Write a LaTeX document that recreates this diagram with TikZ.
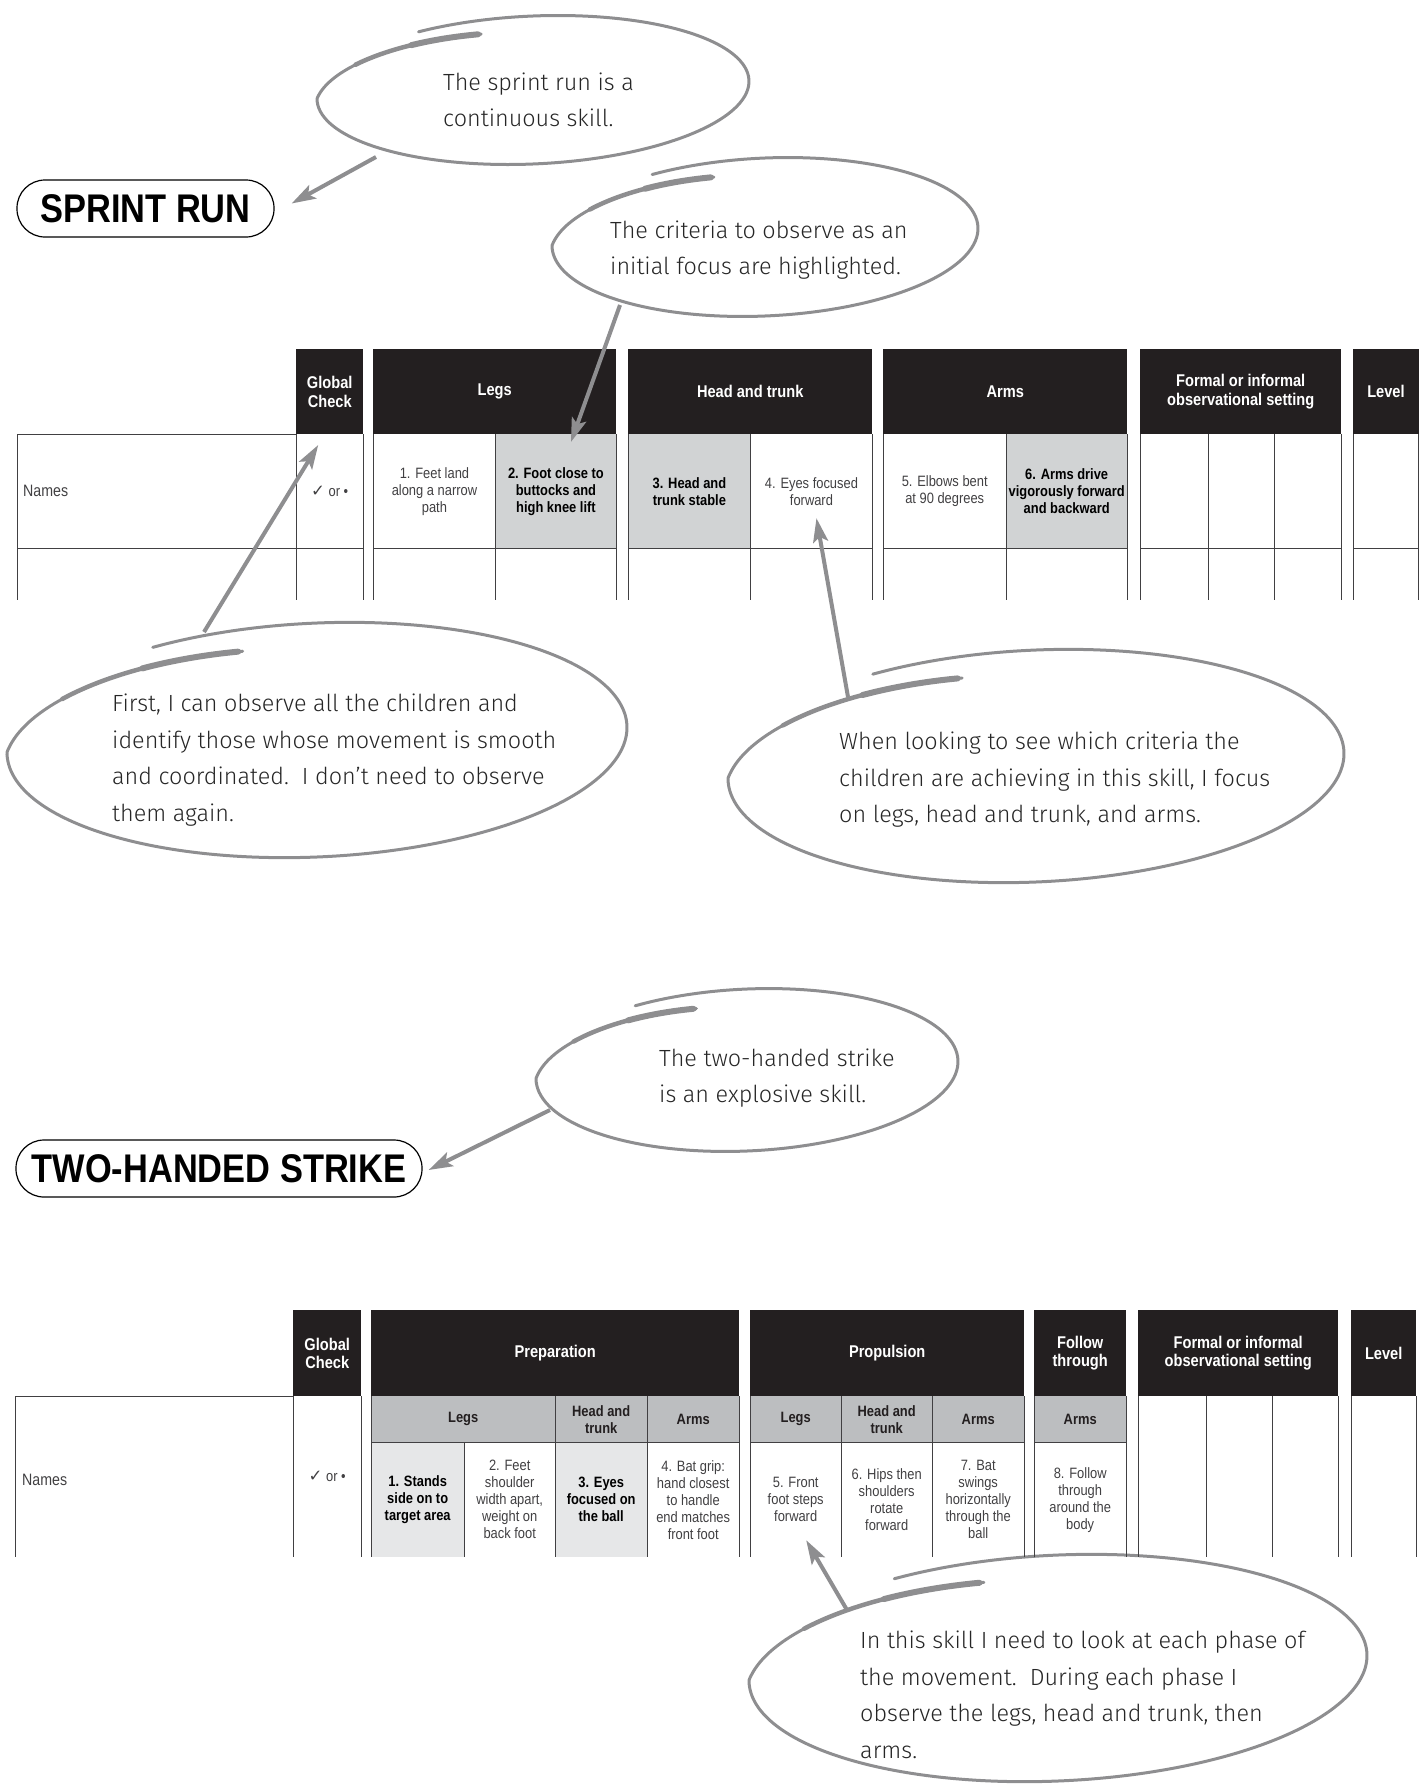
\documentclass[tikz,border=0pt]{standalone}
\usepackage{fontspec}
\usepackage{tikz}
\usetikzlibrary{arrows.meta}
\newfontfamily\tabfont[FakeStretch=0.86]{Liberation Sans}
\newfontfamily\handfont{Fira Sans Light}
\newfontfamily\symfont{DejaVu Sans}
\definecolor{hdrblack}{HTML}{231F20}
\definecolor{hilite}{HTML}{D1D3D4}
\definecolor{litehilite}{HTML}{E6E7E8}
\definecolor{subgray}{HTML}{BCBEC0}
\definecolor{pengray}{HTML}{8E8E90}
\definecolor{inkgray}{HTML}{262626}
\definecolor{ruleclr}{HTML}{414042}
\tikzset{
  declare function={sk(\a)=1-0.18*min(1,max(0,(\a-540)/73));},
  cell/.style={anchor=north west, inner sep=0pt, align=center},
  hdr/.style={cell, fill=hdrblack, text=white, font=\tabfont\bfseries\fontsize{17}{18.5}\selectfont},
  subhdr/.style={cell, fill=subgray, text=hdrblack, font=\tabfont\bfseries\fontsize{15}{17}\selectfont},
  crit/.style={cell, text=ruleclr, font=\tabfont\fontsize{15}{17}\selectfont},
  keycrit/.style={cell, text=black, font=\tabfont\bfseries\fontsize{15}{17}\selectfont},
  rowname/.style={anchor=west, inner sep=0pt, text=ruleclr, font=\tabfont\fontsize{16.5}{18}\selectfont},
  tabline/.style={draw=ruleclr, line width=1pt},
  titlebox/.style={draw=black, line width=1.2pt, rounded corners=28pt, inner sep=0pt,
    font=\tabfont\bfseries\fontsize{40}{42}\selectfont},
  note/.style={anchor=west, inner sep=0pt, align=left, text=inkgray,
    font=\handfont\fontsize{23.4}{36.5}\selectfont},
  pen/.style={draw=pengray, line width=3pt, line cap=round, line join=round},
  pointer/.style={draw=pengray, line width=4pt, -{Stealth[length=24pt, width=15pt, inset=5pt]}}
}
\newcommand{\penloop}[4]{%
  \draw[pen] plot[domain=238:613, samples=150, smooth, variable=\t]
    ({#1+sk(\t)*#3*cos(\t)}, {#2+sk(\t)*(#4*sin(\t)-0.04*#3*cos(\t))});
  \draw[pen, line width=4.5pt] plot[domain=568:612, samples=25, smooth, variable=\t]
    ({#1+sk(\t)*#3*cos(\t)}, {#2+sk(\t)*(#4*sin(\t)-0.04*#3*cos(\t))});
  \draw[pen, line width=6pt] plot[domain=590:612, samples=15, smooth, variable=\t]
    ({#1+sk(\t)*#3*cos(\t)}, {#2+sk(\t)*(#4*sin(\t)-0.04*#3*cos(\t))});
}

\begin{document}
\begin{tikzpicture}[x=1pt, y=-1pt]
\useasboundingbox (0,0) rectangle (1425,1785);

\node[titlebox, minimum width=257pt, minimum height=57pt] (sprint) at (145.5,208.5) {SPRINT RUN};
\node[titlebox, minimum width=406pt, minimum height=57pt] (strike) at (219,1168.5) {TWO-HANDED STRIKE};

\penloop{533}{90}{216}{74}
\penloop{765}{237}{213}{79}
\penloop{317}{740}{310}{117}
\penloop{1036}{766}{308}{116}
\penloop{747}{1070}{211}{81}
\penloop{1058}{1668}{309}{113}

\node[note] (n1) at (443,100) {The sprint run is a\\continuous skill.};
\node[note] (n2) at (610,250) {The criteria to observe as an\\initial focus are highlighted.};
\node[note] (n3) at (112,760) {First, I can observe all the children and\\identify those whose movement is smooth\\and coordinated.\ \ I don’t need to observe\\them again.};
\node[note] (n4) at (839,780) {When looking to see which criteria the\\children are achieving in this skill, I focus\\on legs, head and trunk, and arms.};
\node[note] (n5) at (659,1078) {The two-handed strike\\is an explosive skill.};
\node[note] (n6) at (860,1695) {In this skill I need to look at each phase of\\the movement.\ \ During each phase I\\observe the legs, head and trunk, then\\arms.};

\node[hdr, minimum width=67pt, minimum height=85pt] (gc1) at (296,349) {Global\\Check};
\node[hdr, minimum width=243pt, minimum height=85pt] (legs1) at (373,349) {Legs};
\node[hdr, minimum width=244pt, minimum height=85pt] (ht1) at (628,349) {Head and trunk};
\node[hdr, minimum width=244pt, minimum height=85pt] (arms1) at (883,349) {Arms};
\node[hdr, minimum width=201pt, minimum height=85pt] (set1) at (1140,349) {Formal or informal\\observational setting};
\node[hdr, minimum width=65.5pt, minimum height=85pt] (lvl1) at (1353,349) {Level};

\node[rowname] (names1) at (23,491) {Names};
\node[crit, minimum width=67pt, minimum height=114pt] (chk1) at (296,434) {{\symfont\fontsize{16.5}{18}\selectfont ✓} or •};
\node[crit, minimum width=122.5pt, minimum height=114pt] (a1) at (373,434) {1. Feet land\\along a narrow\\path};
\node[keycrit, fill=hilite, minimum width=120.5pt, minimum height=114pt] (a2) at (495.5,434) {2. Foot close to\\buttocks and\\high knee lift};
\node[keycrit, fill=hilite, minimum width=122.5pt, minimum height=114pt] (a3) at (628,434) {3. Head and\\trunk stable};
\node[crit, minimum width=121.5pt, minimum height=114pt] (a4) at (750.5,434) {4. Eyes focused\\forward};
\node[crit, minimum width=123pt, minimum height=114pt] (a5) at (883,434) {5. Elbows bent\\at 90 degrees};
\node[keycrit, fill=hilite, minimum width=121pt, minimum height=114pt] (a6) at (1006,434) {6. Arms drive\\vigorously forward\\and backward};

\draw[tabline] (17,434) -- (296,434);
\foreach \x in {17,296,363,373,495.5,616,628,750.5,872,883,1006,1127,1140,1208,1274,1341,1353,1418.5}
\draw[tabline] (\x,434) -- (\x,600);
\foreach \a/\b in {17/363,373/616,628/872,883/1127,1140/1341,1353/1418.5}
\draw[tabline] (\a,548) -- (\b,548);

\node[hdr, minimum width=68pt, minimum height=86pt] (gc2) at (293,1310) {Global\\Check};
\node[hdr, minimum width=368pt, minimum height=86pt] (prep) at (371,1310) {Preparation};
\node[hdr, minimum width=274pt, minimum height=86pt] (prop) at (750,1310) {Propulsion};
\node[hdr, minimum width=92pt, minimum height=86pt] (follow) at (1034,1310) {Follow\\through};
\node[hdr, minimum width=200pt, minimum height=86pt] (set2) at (1138,1310) {Formal or informal\\observational setting};
\node[hdr, minimum width=65pt, minimum height=86pt] (lvl2) at (1351,1310) {Level};

\node[subhdr, minimum width=184pt, minimum height=46pt] (s1) at (371,1396) {Legs};
\node[subhdr, minimum width=92pt, minimum height=46pt] (s2) at (555,1396) {Head and\\trunk};
\node[subhdr, minimum width=92pt, minimum height=46pt] (s3) at (647,1396) {Arms};
\node[subhdr, minimum width=91pt, minimum height=46pt] (s4) at (750,1396) {Legs};
\node[subhdr, minimum width=91pt, minimum height=46pt] (s5) at (841,1396) {Head and\\trunk};
\node[subhdr, minimum width=92pt, minimum height=46pt] (s6) at (932,1396) {Arms};
\node[subhdr, minimum width=92pt, minimum height=46pt] (s7) at (1034,1396) {Arms};

\node[rowname] (names2) at (22,1480) {Names};
\node[crit, minimum width=68pt, minimum height=161pt] (chk2) at (293,1396) {{\symfont\fontsize{16.5}{18}\selectfont ✓} or •};
\node[keycrit, fill=litehilite, minimum width=93pt, minimum height=115pt] (p1) at (371,1442) {1. Stands\\side on to\\target area};
\node[crit, minimum width=91pt, minimum height=115pt] (p2) at (464,1442) {2. Feet\\shoulder\\width apart,\\weight on\\back foot};
\node[keycrit, fill=litehilite, minimum width=92pt, minimum height=115pt] (p3) at (555,1442) {3. Eyes\\focused on\\the ball};
\node[crit, minimum width=92pt, minimum height=115pt] (p4) at (647,1442) {4. Bat grip:\\hand closest\\to handle\\end matches\\front foot};
\node[crit, minimum width=91pt, minimum height=115pt] (p5) at (750,1442) {5. Front\\foot steps\\forward};
\node[crit, minimum width=91pt, minimum height=115pt] (p6) at (841,1442) {6. Hips then\\shoulders\\rotate\\forward};
\node[crit, minimum width=92pt, minimum height=115pt] (p7) at (932,1442) {7. Bat\\swings\\horizontally\\through the\\ball};
\node[crit, minimum width=92pt, minimum height=115pt] (p8) at (1034,1442) {8. Follow\\through\\around the\\body};

\draw[tabline] (15,1396) -- (293,1396);
\foreach \x in {15,293,361,371,555,647,739,750,841,932,1024,1034,1126,1138,1206,1272,1338,1351,1416}
\draw[tabline] (\x,1396) -- (\x,1557);
\draw[tabline] (464,1442) -- (464,1557);
\foreach \a/\b in {371/739,750/1024,1034/1126}
\draw[tabline] (\a,1442) -- (\b,1442);

\coordinate (t1) at (376,157);
\coordinate (t2) at (620,305);
\coordinate (t3) at (204,632);
\coordinate (t4) at (848,697);
\coordinate (t5) at (550,1110);
\coordinate (t6) at (847,1610);
\draw[pointer] (t1) -- ([shift={(17,-5)}]sprint.east);
\draw[pointer] (t2) -- ([shift={(15,8)}]a2.north);
\draw[pointer] (t3) -- ([shift={(-11.5,11)}]chk1.north);
\draw[pointer] (t4) -- ([shift={(5,27)}]a4.center);
\draw[pointer] (t5) -- ([shift={(6,1.5)}]strike.east);
\draw[pointer] (t6) -- ([shift={(10.5,40.5)}]p5.center);
\end{tikzpicture}
\end{document}
